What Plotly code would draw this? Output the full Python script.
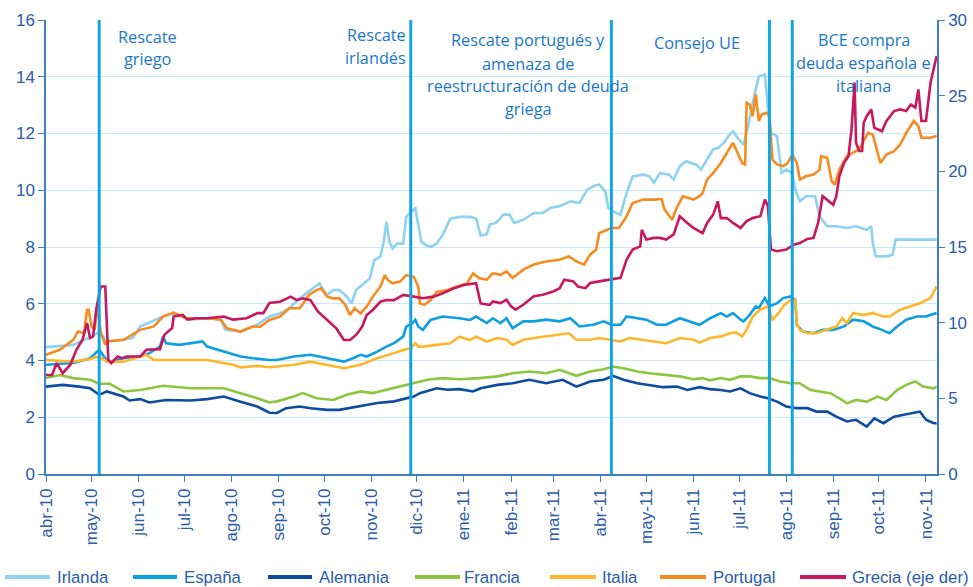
import pandas as pd
import plotly.graph_objects as go

START = "2010-04-01"

# ---------------- data (day offset from 1-Apr-2010, yield %) ----------------
irl_day = [0, 18, 30, 35, 40, 51, 57, 62, 77, 84, 95, 106, 115, 118, 128, 139, 147, 154, 160, 167,
           174, 180, 182, 185, 189, 193, 198, 201, 204, 209, 213, 216, 220, 222, 224, 226, 228, 231, 235, 237,
           240, 243, 245, 247, 250, 253, 257, 261, 266, 272, 279, 283, 286, 290, 292, 296, 301, 305, 308, 314,
           321, 327, 332, 338, 345, 351, 356, 361, 364, 368, 370, 373, 378, 382, 386, 393, 397, 400, 404, 410,
           413, 417, 421, 428, 431, 437, 439, 442, 446, 449, 452, 455, 459, 462, 465, 469, 473, 475, 477, 481,
           483, 484, 487, 491, 493, 496, 500, 506, 509, 514, 520, 527, 533, 540, 543, 544, 546, 553, 557, 559,
           586]
irl_val = [4.47, 4.55, 4.85, 5.0, 4.67, 4.73, 4.79, 5.2, 5.55, 5.67, 5.44, 5.49, 5.44, 5.08, 5.02, 5.26, 5.55, 5.66, 5.84, 6.19,
           6.48, 6.72, 6.54, 6.31, 6.48, 6.48, 6.25, 6.01, 6.48, 6.72, 6.89, 7.54, 7.66, 8.12, 8.89, 8.18, 7.95, 8.12, 8.12, 9.06,
           9.24, 9.36, 8.83, 8.18, 8.07, 8.0, 8.12, 8.42, 9.0, 9.06, 9.06, 9.0, 8.4, 8.45, 8.79, 8.85, 9.14, 9.14, 8.85, 8.96,
           9.2, 9.2, 9.38, 9.44, 9.61, 9.55, 10.02, 10.16, 10.2, 9.96, 9.38, 9.26, 9.14, 9.9, 10.49, 10.55, 10.49, 10.26, 10.61, 10.55,
           10.38, 10.85, 11.02, 10.9, 10.73, 11.26, 11.44, 11.49, 11.67, 11.91, 12.08, 11.85, 11.61, 12.26, 13.08, 14.02, 14.08, 12.9, 12.02, 11.9,
           10.96, 10.61, 10.73, 10.61, 10.02, 9.61, 9.79, 9.79, 9.08, 8.73, 8.73, 8.67, 8.73, 8.61, 8.73, 8.14, 7.67, 7.67, 7.73, 8.26,
           8.26]

esp_day = [0, 18, 29, 35, 39, 42, 51, 62, 68, 75, 77, 79, 88, 95, 103, 106, 117, 128, 136, 147,
           152, 163, 174, 185, 196, 202, 207, 211, 218, 224, 229, 235, 237, 241, 243, 245, 248, 253, 261, 272,
           279, 283, 290, 294, 299, 303, 307, 314, 321, 329, 338, 345, 351, 360, 367, 372, 378, 382, 389, 395,
           402, 408, 417, 424, 430, 437, 444, 448, 452, 457, 459, 463, 467, 469, 473, 476, 481, 485, 490, 493,
           494, 498, 505, 511, 518, 525, 531, 538, 544, 550, 555, 560, 566, 573, 579, 586]
esp_val = [3.85, 3.91, 4.08, 4.38, 4.08, 3.96, 4.08, 4.14, 4.26, 4.49, 4.85, 4.61, 4.55, 4.61, 4.67, 4.49, 4.32, 4.14, 4.08, 4.02,
           4.02, 4.14, 4.2, 4.08, 3.96, 4.08, 4.2, 4.14, 4.31, 4.49, 4.61, 4.84, 5.19, 5.31, 5.43, 5.19, 5.08, 5.43, 5.55, 5.49,
           5.43, 5.55, 5.32, 5.49, 5.32, 5.49, 5.14, 5.38, 5.38, 5.44, 5.38, 5.49, 5.2, 5.26, 5.38, 5.26, 5.26, 5.55, 5.49, 5.44,
           5.26, 5.26, 5.49, 5.38, 5.26, 5.49, 5.67, 5.55, 5.67, 5.44, 5.38, 5.61, 5.91, 5.85, 6.2, 5.91, 6.02, 6.2, 6.26, 6.14,
           5.26, 5.02, 4.96, 5.08, 5.08, 5.2, 5.44, 5.38, 5.2, 5.08, 4.96, 5.2, 5.44, 5.55, 5.55, 5.67]

ale_day = [0, 11, 22, 29, 35, 40, 51, 55, 62, 68, 79, 95, 106, 117, 128, 139, 147, 152, 158, 167,
           174, 185, 193, 207, 218, 229, 237, 242, 246, 257, 264, 272, 281, 286, 297, 307, 318, 329, 340, 349,
           358, 367, 373, 380, 389, 397, 406, 415, 422, 430, 437, 444, 450, 457, 463, 470, 475, 481, 487, 494,
           501, 507, 514, 520, 527, 533, 540, 545, 551, 558, 564, 571, 575, 579, 584, 586]
ale_val = [3.08, 3.14, 3.08, 3.02, 2.79, 2.91, 2.73, 2.59, 2.64, 2.52, 2.61, 2.59, 2.64, 2.73, 2.55, 2.38, 2.16, 2.15, 2.32, 2.38,
           2.32, 2.26, 2.26, 2.38, 2.5, 2.56, 2.67, 2.73, 2.85, 3.02, 2.97, 2.99, 2.91, 3.02, 3.14, 3.2, 3.32, 3.2, 3.32, 3.08,
           3.26, 3.32, 3.46, 3.32, 3.2, 3.14, 3.06, 3.08, 2.96, 3.06, 2.99, 2.96, 2.91, 3.02, 2.85, 2.73, 2.67, 2.55, 2.38, 2.32,
           2.32, 2.2, 2.2, 2.02, 1.85, 1.91, 1.67, 1.96, 1.79, 2.02, 2.08, 2.14, 2.2, 1.91, 1.79, 1.79]

fra_day = [0, 9, 18, 29, 35, 42, 51, 62, 77, 95, 117, 128, 139, 147, 152, 163, 169, 178, 189, 198,
           207, 215, 224, 233, 240, 251, 261, 272, 285, 297, 307, 318, 329, 338, 349, 358, 367, 373, 380, 389,
           397, 406, 417, 426, 432, 437, 444, 450, 457, 463, 470, 476, 483, 490, 496, 503, 509, 516, 522, 527,
           533, 540, 547, 553, 560, 566, 572, 577, 584, 586]
fra_val = [3.38, 3.49, 3.38, 3.32, 3.18, 3.18, 2.91, 2.96, 3.11, 3.02, 3.02, 2.85, 2.67, 2.52, 2.56, 2.73, 2.85, 2.67, 2.61, 2.79,
           2.91, 2.85, 2.97, 3.08, 3.18, 3.32, 3.38, 3.34, 3.38, 3.44, 3.55, 3.61, 3.55, 3.67, 3.46, 3.61, 3.69, 3.79, 3.73, 3.61,
           3.55, 3.49, 3.44, 3.34, 3.38, 3.3, 3.38, 3.32, 3.44, 3.44, 3.38, 3.38, 3.26, 3.2, 3.2, 2.96, 2.91, 2.85, 2.67, 2.49,
           2.61, 2.55, 2.73, 2.61, 2.96, 3.14, 3.26, 3.08, 3.02, 3.08]

ita_day = [0, 18, 29, 35, 40, 51, 62, 66, 71, 84, 106, 123, 128, 139, 147, 152, 163, 174, 185, 196,
           207, 218, 229, 235, 240, 243, 245, 248, 257, 266, 272, 279, 283, 290, 297, 303, 307, 314, 321, 329,
           338, 344, 349, 358, 364, 372, 378, 384, 391, 400, 408, 417, 426, 430, 437, 444, 450, 454, 458, 461,
           465, 470, 475, 478, 482, 485, 490, 493, 494, 496, 501, 507, 514, 520, 524, 527, 531, 538, 544, 551,
           555, 562, 569, 575, 582, 586]
ita_val = [4.02, 3.96, 4.05, 4.14, 3.96, 3.96, 4.14, 4.2, 4.02, 4.02, 4.02, 3.85, 3.76, 3.81, 3.76, 3.79, 3.85, 3.96, 3.85, 3.73,
           3.85, 4.08, 4.26, 4.37, 4.43, 4.61, 4.49, 4.49, 4.55, 4.61, 4.84, 4.72, 4.84, 4.67, 4.79, 4.73, 4.55, 4.73, 4.79, 4.85,
           4.91, 4.96, 4.73, 4.73, 4.79, 4.73, 4.67, 4.79, 4.73, 4.67, 4.61, 4.79, 4.73, 4.63, 4.79, 4.85, 4.96, 4.99, 4.85, 5.08,
           5.55, 5.79, 5.91, 5.44, 5.67, 5.91, 6.14, 6.14, 5.32, 5.08, 4.96, 4.96, 5.08, 5.2, 5.49, 5.32, 5.67, 5.61, 5.67, 5.55,
           5.55, 5.79, 5.91, 6.02, 6.2, 6.61]

por_day = [0, 9, 18, 21, 25, 27, 28, 30, 32, 34, 36, 39, 40, 51, 62, 71, 77, 84, 92, 106,
           115, 119, 128, 136, 141, 147, 154, 160, 167, 173, 178, 181, 185, 189, 193, 197, 200, 203, 207, 211,
           215, 220, 223, 225, 228, 233, 237, 242, 245, 246, 249, 253, 257, 264, 270, 277, 281, 285, 290, 294,
           299, 303, 307, 314, 321, 329, 338, 344, 349, 354, 358, 362, 364, 369, 372, 377, 382, 386, 393, 400,
           405, 407, 410, 412, 415, 419, 426, 430, 432, 435, 439, 444, 448, 452, 454, 458, 460, 461, 463, 465,
           467, 469, 471, 474, 476, 478, 481, 485, 488, 491, 494, 496, 500, 505, 509, 510, 514, 517, 519, 522,
           527, 531, 535, 538, 541, 544, 549, 553, 558, 562, 566, 571, 574, 576, 582, 586]
por_val = [4.2, 4.38, 4.73, 5.02, 4.96, 5.79, 5.79, 5.2, 5.08, 6.02, 5.0, 4.55, 4.67, 4.73, 5.08, 5.2, 5.55, 5.69, 5.49, 5.49,
           5.44, 5.14, 5.02, 5.2, 5.19, 5.43, 5.55, 5.84, 5.84, 6.31, 6.48, 6.54, 6.25, 6.19, 6.19, 5.96, 5.6, 5.84, 5.66, 5.9,
           6.25, 6.6, 7.01, 6.83, 6.72, 6.78, 7.01, 6.95, 6.6, 6.01, 5.96, 6.13, 6.42, 6.48, 6.6, 6.72, 7.07, 6.9, 6.85, 7.08,
           7.02, 7.14, 6.91, 7.2, 7.38, 7.49, 7.55, 7.67, 7.49, 7.38, 7.73, 7.91, 8.49, 8.61, 8.67, 8.67, 9.08, 9.55, 9.67, 9.67,
           9.69, 9.32, 9.08, 8.96, 9.38, 9.79, 9.67, 9.79, 9.9, 10.38, 10.61, 10.96, 11.32, 11.67, 11.44, 10.96, 10.91, 13.08, 13.02, 12.61,
           13.38, 12.44, 12.67, 12.73, 12.61, 11.08, 10.91, 10.85, 10.96, 11.26, 10.96, 10.38, 10.49, 10.55, 10.73, 11.2, 11.14, 10.32, 10.2, 10.73,
           11.2, 11.32, 11.44, 11.73, 12.02, 11.96, 10.96, 11.26, 11.38, 11.61, 12.02, 12.44, 12.26, 11.85, 11.85, 11.91]

gre_day = [0, 4, 7, 11, 16, 20, 24, 27, 29, 31, 33, 36, 39, 41, 43, 47, 50, 53, 62, 66,
           75, 78, 83, 84, 90, 93, 99, 106, 117, 123, 132, 139, 143, 147, 154, 161, 165, 169, 174, 179,
           185, 191, 196, 200, 204, 208, 211, 215, 220, 224, 229, 235, 242, 248, 255, 261, 268, 275, 283, 286,
           292, 294, 299, 303, 306, 309, 314, 321, 327, 334, 338, 341, 347, 350, 355, 358, 364, 372, 378, 382,
           386, 391, 392, 395, 400, 404, 408, 413, 417, 422, 426, 430, 432, 435, 439, 442, 444, 448, 452, 457,
           461, 465, 470, 473, 475, 477, 481, 487, 492, 496, 501, 505, 508, 511, 515, 518, 520, 522, 525, 528,
           530, 532, 533, 535, 537, 538, 540, 543, 545, 550, 553, 558, 562, 566, 569, 572, 574, 576, 579, 582,
           584, 586]
gre_val = [6.54, 6.54, 7.33, 6.66, 7.22, 8.21, 8.87, 9.98, 8.98, 9.09, 10.86, 12.39, 12.39, 7.54, 7.33, 7.76, 7.65, 7.76, 7.76, 8.21,
           8.25, 9.21, 9.64, 10.41, 10.52, 10.2, 10.29, 10.29, 10.41, 10.2, 10.29, 10.63, 10.63, 11.3, 11.38, 11.72, 11.49, 11.61, 11.49, 10.73,
           10.18, 9.62, 8.85, 8.85, 9.19, 9.73, 10.5, 10.84, 11.38, 11.49, 11.49, 11.83, 11.72, 11.61, 11.72, 11.94, 12.26, 12.49, 12.6, 11.27,
           11.18, 11.4, 11.29, 11.51, 11.08, 10.86, 11.18, 11.74, 11.85, 12.08, 12.28, 12.84, 12.73, 12.39, 12.28, 12.62, 12.73, 12.84, 12.96, 14.16,
           14.83, 15.04, 16.14, 15.49, 15.6, 15.6, 15.49, 15.83, 17.03, 16.59, 16.26, 16.03, 15.92, 16.59, 17.14, 18.02, 16.91, 16.91, 16.59, 16.26,
           16.71, 16.91, 17.03, 18.13, 17.7, 14.83, 14.72, 14.83, 15.15, 15.26, 15.53, 15.6, 16.59, 18.36, 18.02, 17.79, 18.36, 19.67, 20.55, 21.0,
           22.76, 25.86, 21.88, 21.34, 21.34, 23.21, 23.64, 24.09, 22.88, 22.65, 23.33, 23.98, 24.09, 23.98, 24.41, 24.21, 25.41, 23.33, 23.33, 25.86,
           26.74, 27.62]

series_names = ["Irlanda", "España", "Alemania", "Francia", "Italia", "Portugal", "Grecia (eje der)"]

event_dates = ["2010-05-06", "2010-11-27", "2011-04-08", "2011-07-21", "2011-08-05"]
event_labels = [["Rescate", "griego"],
                ["Rescate", "irlandés"],
                ["Rescate portugués y", "amenaza de", "reestructuración de deuda", "griega"],
                ["Consejo UE"],
                ["BCE compra", "deuda española e", "italiana"]]

tick_dates = pd.date_range("2010-04-01", "2011-11-01", freq="MS")
tick_labels = ["abr-10", "may-10", "jun-10", "jul-10", "ago-10", "sep-10", "oct-10", "nov-10", "dic-10",
               "ene-11", "feb-11", "mar-11", "abr-11", "may-11", "jun-11", "jul-11", "ago-11", "sep-11",
               "oct-11", "nov-11"]

# ---------------- styling ----------------
colors = ["#8ED2F2", "#0E9FE0", "#0D4C9E", "#8CC63E", "#FDB72D", "#F68B1F", "#C8185E"]
AX = "#2A5CA8"
AXLINE = "#3F7FC4"
EVT = "#12A5E5"
TXT = "#1877C9"
FONT = "Liberation Sans, Arial, sans-serif"
ANN_FONT = "Open Sans, Noto Sans, sans-serif"

W, H = 973, 587
ML, MR, MT, MB = 46, 36, 20, 113
PW, PH = W - ML - MR, H - MT - MB


def to_dates(days):
    return pd.Timestamp(START) + pd.to_timedelta(days, unit="D")


def px_x(px):
    return (px - ML) / PW


def px_y(py):
    return (H - MB - py) / PH


fig = go.Figure()
data = [(irl_day, irl_val), (esp_day, esp_val), (ale_day, ale_val), (fra_day, fra_val),
        (ita_day, ita_val), (por_day, por_val), (gre_day, gre_val)]
for i, (d, v) in enumerate(data):
    assert len(d) == len(v), series_names[i]
    fig.add_trace(go.Scatter(
        x=to_dates(d), y=v, mode="lines", name=series_names[i],
        line=dict(color=colors[i], width=2.6),
        yaxis="y2" if i == 6 else "y", showlegend=False))

shapes = []
for d in event_dates:
    shapes.append(dict(type="line", xref="x", yref="paper", x0=d, x1=d, y0=0, y1=1,
                       line=dict(color=EVT, width=3), layer="above"))

annotations = []
# label layout: (x pixel, anchor, [line centre y pixels])
label_layout = [(147.5, "center", [37, 59]),
                (408, "right", [35.5, 57.5]),
                (528, "center", [40.5, 63.5, 86.5, 108.5]),
                (696.5, "center", [43]),
                (863.5, "center", [40, 63, 86])]
for lines, (xp, anc, ys) in zip(event_labels, label_layout):
    for txt, yp in zip(lines, ys):
        annotations.append(dict(x=px_x(xp), xref="paper", y=px_y(yp), yref="paper", text=txt,
                                showarrow=False, xanchor=anc, yanchor="middle",
                                font=dict(family=ANN_FONT, size=16.3, color=TXT)))

# custom legend (sample line pixel start/end, text start)
leg_pos = [(5, 50, 55), (133, 177, 182), (268, 312, 317), (415, 460, 462),
           (550, 596, 600), (660, 706, 711), (800, 846, 850)]
leg_y = 577
for i, (a, b, t) in enumerate(leg_pos):
    shapes.append(dict(type="line", xref="paper", yref="paper", x0=px_x(a), x1=px_x(b),
                       y0=px_y(leg_y), y1=px_y(leg_y), line=dict(color=colors[i], width=4)))
    annotations.append(dict(x=px_x(t), xref="paper", y=px_y(leg_y), yref="paper",
                            text=series_names[i], showarrow=False, xanchor="left", yanchor="middle",
                            font=dict(family=FONT, size=16.8, color=AX)))

fig.update_layout(
    width=W, height=H, autosize=False,
    margin=dict(l=ML, r=MR, t=MT, b=MB, pad=0, autoexpand=False),
    paper_bgcolor="white", plot_bgcolor="white",
    showlegend=False,
    font=dict(family=FONT, color=AX),
    xaxis=dict(type="date", range=["2010-04-01", "2011-11-08 06:00"], automargin=False,
               tickvals=tick_dates, ticktext=tick_labels, tickangle=-90,
               tickfont=dict(size=17, color=AX), ticks="outside", ticklen=6, tickcolor=AXLINE,
               showline=True, linecolor=AXLINE, linewidth=1.5, showgrid=False, zeroline=False),
    yaxis=dict(range=[0, 16], dtick=2, tickfont=dict(size=17, color=AX), automargin=False,
               ticks="outside", ticklen=6, tickcolor=AXLINE,
               showline=True, linecolor=AXLINE, linewidth=1.5,
               showgrid=True, gridcolor="#C8E8F7", gridwidth=1, zeroline=False),
    yaxis2=dict(range=[0, 30], dtick=5, overlaying="y", side="right", automargin=False,
                tickfont=dict(size=17, color=AX), ticks="outside", ticklen=6, tickcolor=AXLINE,
                showline=True, linecolor=AXLINE, linewidth=1.5, showgrid=False, zeroline=False),
    shapes=shapes, annotations=annotations,
)

fig.write_html("out.html", include_plotlyjs=True, full_html=True,
               config={"displayModeBar": False},
               post_script="document.body.style.margin='0';document.body.style.overflow='hidden';")
